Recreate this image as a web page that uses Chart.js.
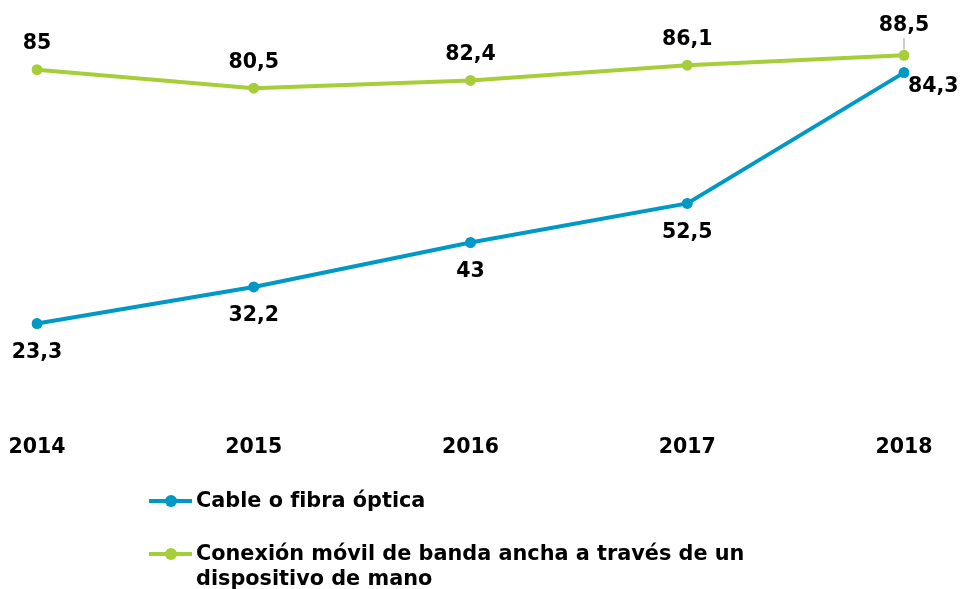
<!DOCTYPE html>
<html lang="es">
<head>
<meta charset="UTF-8">
<title>Cable vs móvil</title>
<script src="https://cdn.jsdelivr.net/npm/chart.js"></script>
<style>
  body { margin: 0; background: #fff; font-family: "DejaVu Sans", Verdana, sans-serif; }
  .wrap { position: relative; width: 960px; height: 589px; }
  .legend { position: absolute; left: 149px; top: 488px; font-weight: bold; font-size: 20.8px; color: #000; }
  .item { display: flex; align-items: flex-start; margin-bottom: 28px; }
  .swatch { position: relative; width: 43px; height: 25px; margin-right: 4px; flex: none; }
  .swatch .ln { position: absolute; left: 0; right: 0; top: 11px; height: 4px; }
  .swatch .dot { position: absolute; left: 16px; top: 7px; width: 12px; height: 12px; border-radius: 50%; }
  .txt { line-height: 25px; width: 570px; }
</style>
</head>
<body>
<div class="wrap">
  <canvas id="chart" width="960" height="589"></canvas>
  <div class="legend" id="legend"></div>
</div>
<script>
  const years = ['2014', '2015', '2016', '2017', '2018'];
  const cableValues = [23.3, 32.2, 43, 52.5, 84.3];
  const movilValues = [85, 80.5, 82.4, 86.1, 88.5];
  const cableLabel = 'Cable o fibra óptica';
  const movilLabel = 'Conexión móvil de banda ancha a través de un dispositivo de mano';

  const blue = 'rgb(0, 152, 196)';
  const green = 'rgb(166, 206, 57)';
  const fontFamily = '"DejaVu Sans", Verdana, sans-serif';

  // label offsets (dx, dy, align) per point
  const labelPos = {
    0: [[0, 29, 'center'], [0, 29, 'center'], [0, 29, 'center'], [0, 29, 'center'], [4, 14, 'left']],
    1: [[0, -26, 'center'], [0, -26, 'center'], [0, -26, 'center'], [0, -26, 'center'], [0, -30, 'center']]
  };

  const valueLabels = {
    id: 'valueLabels',
    afterDatasetsDraw(chart) {
      const ctx = chart.ctx;
      ctx.save();
      ctx.font = 'bold 20.5px ' + fontFamily;
      ctx.fillStyle = '#000';
      ctx.textBaseline = 'middle';
      chart.data.datasets.forEach((ds, i) => {
        chart.getDatasetMeta(i).data.forEach((pt, j) => {
          const p = labelPos[i][j];
          ctx.textAlign = p[2];
          ctx.fillText(String(ds.data[j]).replace('.', ','), pt.x + p[0], pt.y + p[1]);
        });
      });
      // small leader line for the last green label
      const last = chart.getDatasetMeta(1).data[4];
      ctx.strokeStyle = '#999';
      ctx.lineWidth = 1;
      ctx.beginPath();
      ctx.moveTo(last.x, last.y - 17);
      ctx.lineTo(last.x, last.y - 6);
      ctx.stroke();
      ctx.restore();
    }
  };

  new Chart(document.getElementById('chart'), {
    type: 'line',
    data: {
      labels: years,
      datasets: [{
        label: cableLabel,
        data: cableValues,
        borderColor: blue,
        backgroundColor: blue,
        borderWidth: 4,
        pointRadius: 5.5,
        pointBorderWidth: 0,
        tension: 0
      }, {
        label: movilLabel,
        data: movilValues,
        borderColor: green,
        backgroundColor: green,
        borderWidth: 4,
        pointRadius: 5.5,
        pointBorderWidth: 0,
        tension: 0
      }]
    },
    options: {
      responsive: false,
      animation: false,
      layout: { padding: { left: 37, right: 56, top: 8, bottom: 113 } },
      plugins: { legend: { display: false }, tooltip: { enabled: false } },
      scales: {
        x: {
          offset: false,
          grid: { display: false, drawTicks: false },
          border: { display: false },
          ticks: { color: '#000', padding: 16, maxRotation: 0, font: { family: fontFamily, size: 20.5, weight: 'bold' } },
          afterFit(scale) {
            scale.paddingLeft = 0;
            scale.paddingRight = 0;
          }
        },
        y: {
          display: false,
          min: 0,
          max: 100
        }
      }
    },
    plugins: [valueLabels]
  });

  // legend below the chart
  const legend = document.getElementById('legend');
  [[cableLabel, blue], [movilLabel, green]].forEach(([txt, col]) => {
    const item = document.createElement('div');
    item.className = 'item';
    item.innerHTML = '<div class="swatch"><div class="ln" style="background:' + col + '"></div>' +
      '<div class="dot" style="background:' + col + '"></div></div><div class="txt"></div>';
    item.querySelector('.txt').textContent = txt;
    legend.appendChild(item);
  });
</script>
</body>
</html>
